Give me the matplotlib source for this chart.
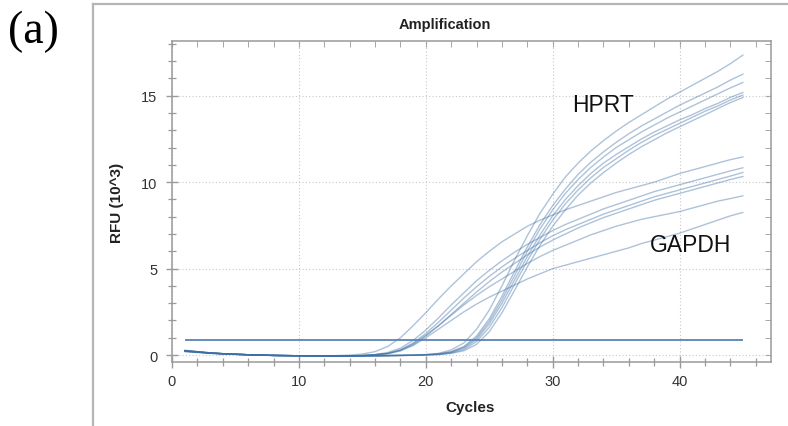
import matplotlib
matplotlib.use("Agg")
import matplotlib.pyplot as plt
import numpy as np

cycles = list(range(1, 46))

gapdh_1 = [0.28, 0.20, 0.13, 0.08, 0.05, 0.02, 0.00, -0.02, -0.03, -0.04, -0.04, -0.04, -0.03,
           0.00, 0.06, 0.20, 0.50, 1.00, 1.70, 2.45, 3.25, 4.00, 4.70, 5.40, 6.00, 6.55, 7.00,
           7.45, 7.80, 8.10, 8.40, 8.65, 8.90, 9.15, 9.40, 9.60, 9.80, 10.00, 10.25, 10.50,
           10.70, 10.90, 11.10, 11.30, 11.46]
gapdh_2 = [0.24, 0.18, 0.12, 0.08, 0.05, 0.02, 0.00, -0.02, -0.03, -0.04, -0.04, -0.05, -0.05,
           -0.04, -0.02, 0.03, 0.15, 0.40, 0.85, 1.45, 2.15, 2.90, 3.60, 4.30, 4.90, 5.45, 5.95,
           6.40, 6.80, 7.20, 7.55, 7.85, 8.15, 8.45, 8.70, 8.95, 9.20, 9.45, 9.65, 9.85,
           10.05, 10.25, 10.45, 10.65, 10.83]
gapdh_3 = [0.22, 0.17, 0.11, 0.07, 0.04, 0.02, 0.00, -0.02, -0.03, -0.04, -0.05, -0.05, -0.05,
           -0.05, -0.03, 0.02, 0.10, 0.30, 0.70, 1.25, 1.90, 2.60, 3.30, 3.95, 4.55, 5.10, 5.60,
           6.05, 6.50, 6.90, 7.25, 7.55, 7.85, 8.15, 8.40, 8.65, 8.90, 9.15, 9.35, 9.55,
           9.75, 9.95, 10.15, 10.35, 10.56]
gapdh_4 = [0.20, 0.15, 0.10, 0.07, 0.04, 0.01, -0.01, -0.02, -0.03, -0.04, -0.05, -0.05, -0.05,
           -0.05, -0.03, 0.02, 0.08, 0.25, 0.60, 1.10, 1.70, 2.35, 3.00, 3.65, 4.25, 4.80, 5.30,
           5.80, 6.25, 6.65, 7.00, 7.35, 7.65, 7.95, 8.20, 8.45, 8.70, 8.95, 9.15, 9.35,
           9.55, 9.75, 9.95, 10.15, 10.33]
gapdh_5 = [0.23, 0.17, 0.12, 0.08, 0.05, 0.02, 0.00, -0.02, -0.03, -0.04, -0.04, -0.05, -0.05,
           -0.05, -0.03, 0.02, 0.10, 0.30, 0.65, 1.15, 1.70, 2.30, 2.90, 3.45, 3.95, 4.40, 4.85,
           5.30, 5.70, 6.05, 6.35, 6.65, 6.95, 7.20, 7.45, 7.65, 7.85, 8.00, 8.15, 8.30,
           8.50, 8.70, 8.90, 9.05, 9.21]
gapdh_6 = [0.26, 0.19, 0.13, 0.08, 0.05, 0.02, 0.00, -0.02, -0.03, -0.04, -0.04, -0.05, -0.05,
           -0.05, -0.03, 0.02, 0.08, 0.25, 0.55, 1.00, 1.50, 2.00, 2.50, 2.95, 3.35, 3.70, 4.05,
           4.40, 4.70, 5.00, 5.20, 5.40, 5.60, 5.80, 6.00, 6.20, 6.45, 6.65, 6.85, 7.05,
           7.30, 7.55, 7.80, 8.05, 8.25]

hprt_1 = [0.27, 0.20, 0.13, 0.08, 0.05, 0.02, 0.00, -0.02, -0.03, -0.04, -0.04, -0.05, -0.05,
          -0.05, -0.05, -0.04, -0.03, -0.02, 0.00, 0.03, 0.10, 0.30, 0.70, 1.50, 2.60, 4.00,
          5.50, 6.90, 8.20, 9.30, 10.30, 11.10, 11.80, 12.40, 12.95, 13.45, 13.90, 14.35,
          14.80, 15.20, 15.60, 16.00, 16.40, 16.85, 17.35]
hprt_2 = [0.25, 0.18, 0.12, 0.08, 0.05, 0.02, 0.00, -0.02, -0.03, -0.04, -0.04, -0.05, -0.05,
          -0.05, -0.05, -0.04, -0.03, -0.02, -0.01, 0.02, 0.07, 0.20, 0.50, 1.10, 2.10, 3.40,
          4.85, 6.25, 7.55, 8.65, 9.60, 10.45, 11.15, 11.75, 12.30, 12.80, 13.25, 13.65,
          14.05, 14.45, 14.80, 15.15, 15.50, 15.90, 16.25]
hprt_3 = [0.23, 0.17, 0.11, 0.07, 0.04, 0.02, 0.00, -0.02, -0.03, -0.04, -0.05, -0.05, -0.05,
          -0.05, -0.05, -0.04, -0.03, -0.02, -0.01, 0.02, 0.06, 0.18, 0.45, 1.00, 1.95, 3.20,
          4.60, 6.00, 7.30, 8.40, 9.35, 10.15, 10.85, 11.45, 12.00, 12.45, 12.90, 13.30,
          13.70, 14.05, 14.40, 14.75, 15.10, 15.45, 15.77]
hprt_4 = [0.21, 0.16, 0.10, 0.07, 0.04, 0.01, -0.01, -0.02, -0.03, -0.04, -0.05, -0.05, -0.05,
          -0.05, -0.05, -0.04, -0.03, -0.02, -0.01, 0.02, 0.05, 0.15, 0.40, 0.90, 1.80, 3.00,
          4.35, 5.70, 6.95, 8.05, 9.00, 9.80, 10.50, 11.10, 11.60, 12.05, 12.50, 12.90,
          13.25, 13.60, 13.90, 14.25, 14.55, 14.90, 15.19]
hprt_5 = [0.24, 0.18, 0.12, 0.08, 0.05, 0.02, 0.00, -0.02, -0.03, -0.04, -0.04, -0.05, -0.05,
          -0.05, -0.05, -0.04, -0.03, -0.02, -0.01, 0.01, 0.04, 0.12, 0.32, 0.78, 1.60, 2.75,
          4.10, 5.45, 6.70, 7.80, 8.75, 9.55, 10.25, 10.85, 11.35, 11.85, 12.30, 12.70,
          13.05, 13.40, 13.75, 14.10, 14.40, 14.75, 15.04]
hprt_6 = [0.26, 0.19, 0.13, 0.08, 0.05, 0.02, 0.00, -0.02, -0.03, -0.04, -0.04, -0.05, -0.05,
          -0.05, -0.05, -0.04, -0.03, -0.02, -0.01, 0.01, 0.03, 0.10, 0.25, 0.62, 1.35, 2.45,
          3.75, 5.10, 6.35, 7.45, 8.40, 9.25, 9.95, 10.55, 11.10, 11.60, 12.05, 12.45,
          12.85, 13.20, 13.55, 13.90, 14.25, 14.60, 14.90]

threshold = 0.87
x_ticks = [0, 10, 20, 30, 40]
y_ticks = [0, 5, 10, 15]

curves = [gapdh_1, gapdh_2, gapdh_3, gapdh_4, gapdh_5, gapdh_6,
          hprt_1, hprt_2, hprt_3, hprt_4, hprt_5, hprt_6]

W, H = 788, 427
fig = plt.figure(figsize=(W / 100, H / 100), dpi=100)
sans = "Liberation Sans"

def fx(px):
    return px / W

def fy(py):
    return 1 - py / H

# outer frame lines
fig.add_artist(plt.Line2D([fx(93), fx(93)], [fy(5), 0], color="#b5b5b5", lw=1.6))
fig.add_artist(plt.Line2D([fx(93), 1], [fy(5), fy(5)], color="#b5b5b5", lw=1.6))

ax = fig.add_axes([fx(172), fy(363), fx(771) - fx(172), fy(42) - fy(363)])

for c in curves:
    ax.plot(cycles, c, color="#3d6fa5", alpha=0.42, lw=1.0, solid_capstyle="round")

ax.hlines(threshold, cycles[0], cycles[-1], color="#5a84b4", lw=1.3)

ax.set_xlim(0, 47.2)
ax.set_ylim(-0.4, 18.16)
ax.set_xticks(x_ticks)
ax.set_yticks(y_ticks)
ax.set_xticks(np.arange(0, 47, 2), minor=True)
ax.set_yticks(np.arange(0, 19, 1), minor=True)
ax.grid(True, which="major", linestyle=(0, (1, 2)), color="#c8c8c8", lw=0.8)
ax.set_axisbelow(True)

for s in ax.spines.values():
    s.set_color("#9a9a9a")
    s.set_linewidth(1.1)

ax.tick_params(which="major", direction="inout", length=9, width=1.0, color="#9a9a9a",
               labelsize=10.5, labelcolor="#333333", pad=4)
ax.tick_params(which="minor", direction="inout", length=6, width=0.9, color="#9a9a9a")
ax.tick_params(axis="y", which="major", pad=6)
for lab in ax.get_xticklabels() + ax.get_yticklabels():
    lab.set_fontfamily(sans)

# inward ticks on top and right
top = ax.secondary_xaxis("top")
top.set_xticks(x_ticks)
top.set_xticks(np.arange(0, 47, 2), minor=True)
top.tick_params(which="both", direction="in", length=4, color="#9a9a9a", labeltop=False)
top.spines["top"].set_visible(False)
right = ax.secondary_yaxis("right")
right.set_yticks(y_ticks)
right.set_yticks(np.arange(0, 19, 1), minor=True)
right.tick_params(which="both", direction="in", length=4, color="#9a9a9a", labelright=False)
right.spines["right"].set_visible(False)

ax.text(31.55, 14.13, "HPRT", fontsize=16.5, family=sans, color="#111111", va="baseline")
ax.text(37.64, 6.03, "GAPDH", fontsize=16.5, family=sans, color="#111111", va="baseline")

fig.text(fx(445), fy(25), "Amplification", fontsize=10.5, fontweight="bold", family=sans,
         ha="center", va="center", color="#222222")
fig.text(fx(470), fy(408), "Cycles", fontsize=11, fontweight="bold", family=sans,
         ha="center", va="center", color="#222222")
fig.text(fx(117), fy(203), "RFU (10^3)", fontsize=11, fontweight="bold", family=sans,
         ha="center", va="center", rotation=90, color="#222222")
fig.text(fx(8), fy(43), "(a)", fontsize=33, family="Liberation Serif", ha="left",
         va="baseline", color="black")

fig.savefig("out.png", dpi=100)
